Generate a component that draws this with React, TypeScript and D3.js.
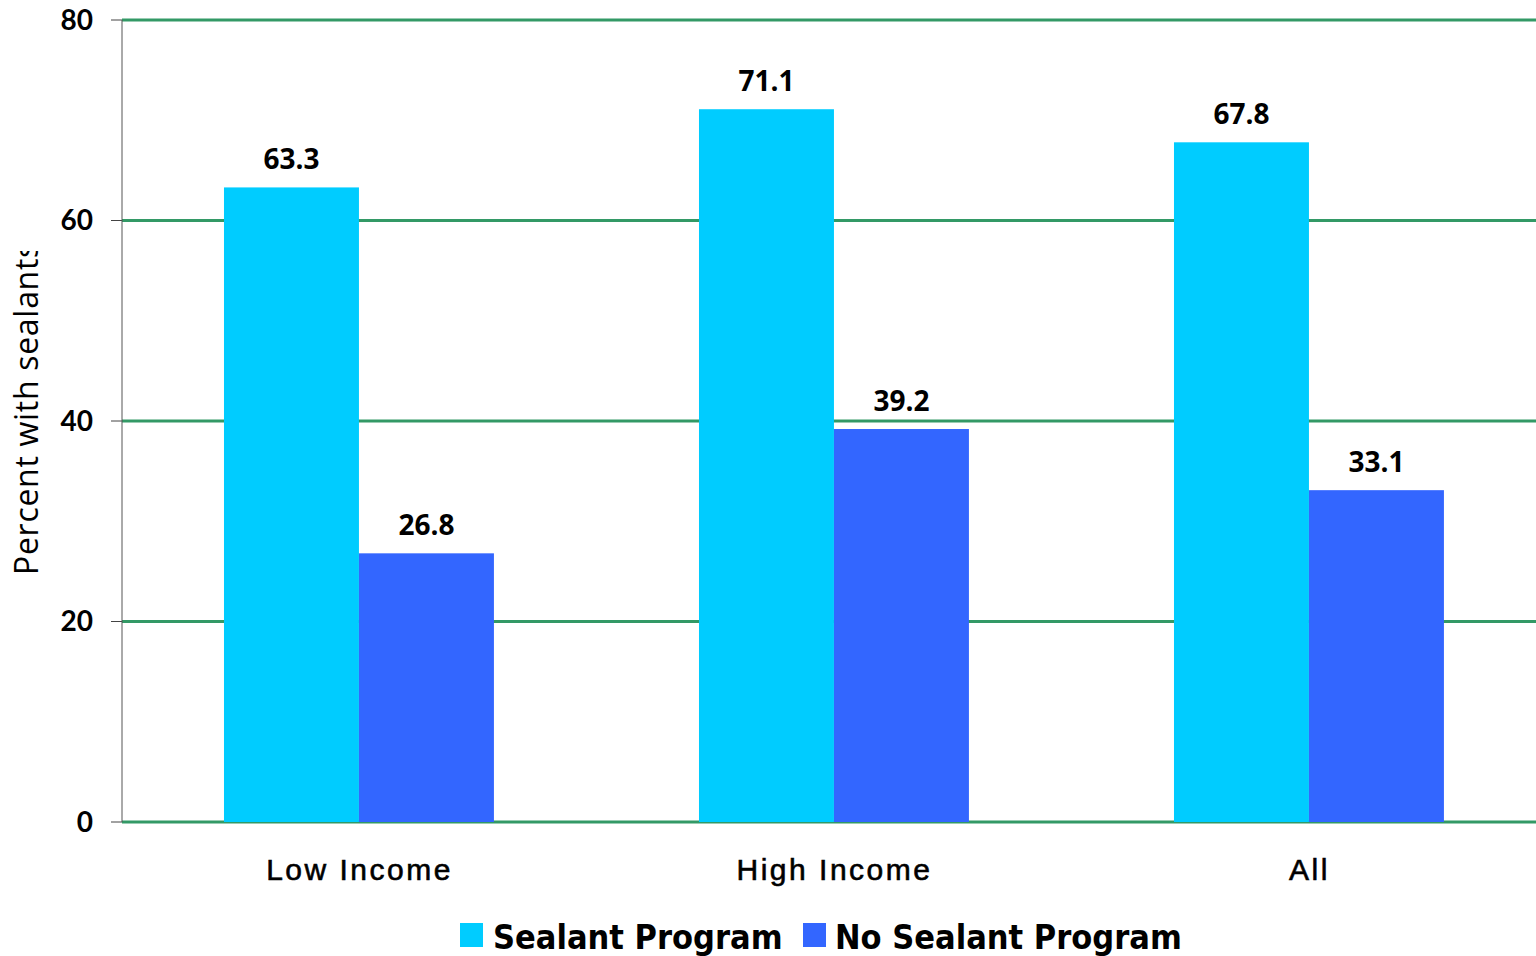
import React from "react";
import * as d3 from "d3";

const categories = ["Low Income", "High Income", "All"];
const seriesNames = ["Sealant Program", "No Sealant Program"];
const sealantValues = [63.3, 71.1, 67.8];
const noSealantValues = [26.8, 39.2, 33.1];
const yTicks = [0, 20, 40, 60, 80];
const colors = ["#00CCFF", "#3366FF"];

const W = 1536;
const H = 956;
const left = 122;
const right = 1547;
const top = 20;
const bottom = 822;

export default function App() {
  const x = d3.scaleBand<string>().domain(categories).range([left, right]).paddingInner(0).paddingOuter(0);
  const y = d3.scaleLinear().domain([0, 80]).range([bottom, top]);
  const bw = x.bandwidth();
  const inner = d3.scaleBand<string>().domain(seriesNames).range([bw * 0.2147, bw * 0.783]);
  const series = [sealantValues, noSealantValues];

  return (
    <svg width={W} height={H} style={{ position: "absolute", left: 0, top: 0, background: "#fff" }}>
      <defs>
        <clipPath id="ylabclip">
          <rect x={0} y={251} width={60} height={500} />
        </clipPath>
      </defs>
      <rect x={0} y={0} width={W} height={H} fill="#fff" />
      {yTicks.map((t) => (
        <g key={t}>
          <line x1={left} x2={W} y1={y(t)} y2={y(t)} stroke="#339966" strokeWidth={3} />
          <line x1={111} x2={left} y1={y(t)} y2={y(t)} stroke="#444" strokeWidth={1} />
          <text x={93} y={y(t)} dy="0.35em" textAnchor="end" fontFamily="Lato" fontWeight={700} fontSize={28} fill="#000">
            {t}
          </text>
        </g>
      ))}
      <line x1={left} x2={left} y1={top} y2={bottom} stroke="#555" strokeWidth={1} />
      {series.map((vals, si) =>
        categories.map((c, ci) => {
          const bx = (x(c) as number) + (inner(seriesNames[si]) as number);
          const by = y(vals[ci]);
          return (
            <g key={`${si}-${ci}`}>
              <rect x={bx} y={by} width={inner.bandwidth()} height={bottom - by} fill={colors[si]} />
              <text x={bx + inner.bandwidth() / 2} y={by - 18} textAnchor="middle" fontFamily="Open Sans" fontWeight={700} fontSize={28} fill="#000">
                {vals[ci].toFixed(1)}
              </text>
            </g>
          );
        })
      )}
      {categories.map((c) => (
        <text key={c} x={(x(c) as number) + bw / 2} y={880} textAnchor="middle" fontFamily="Liberation Sans" fontWeight={400} fontSize={30} letterSpacing={2.5} stroke="#000" strokeWidth={0.6} fill="#000">
          {c}
        </text>
      ))}
      <g clipPath="url(#ylabclip)">
        <text transform="translate(38,575) rotate(-90)" textAnchor="start" fontFamily="Open Sans" fontWeight={400} fontSize={32} letterSpacing={0.7} fill="#000">
          Percent with sealants
        </text>
      </g>
      <g>
        <rect x={460} y={923} width={23} height={24} fill={colors[0]} />
        <text x={493} y={949} fontFamily="DejaVu Sans" fontStretch="condensed" fontWeight={700} fontSize={34} fill="#000">
          {seriesNames[0]}
        </text>
        <rect x={803} y={923} width={23} height={24} fill={colors[1]} />
        <text x={835} y={949} fontFamily="DejaVu Sans" fontStretch="condensed" fontWeight={700} fontSize={34} fill="#000">
          {seriesNames[1]}
        </text>
      </g>
    </svg>
  );
}
